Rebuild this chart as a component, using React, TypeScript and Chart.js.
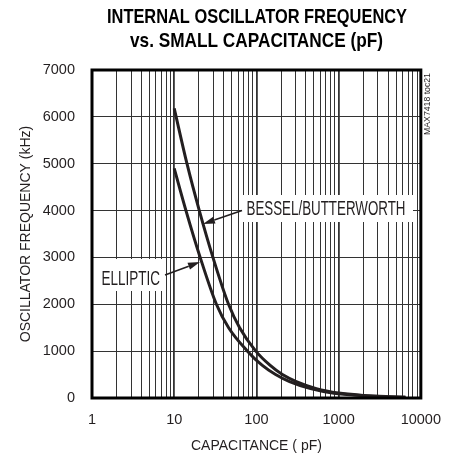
import React, { useEffect, useRef } from "react";
import { Chart, registerables } from "chart.js";

Chart.register(...registerables);

const titleLines = ["INTERNAL OSCILLATOR FREQUENCY", "vs. SMALL CAPACITANCE (pF)"];
const xTitle = "CAPACITANCE ( pF)";
const yTitle = "OSCILLATOR FREQUENCY (kHz)";
const sideNote = "MAX7418 toc21";

const capTicks = [
  1, 2, 3, 4, 5, 6, 7, 8, 9,
  10, 20, 30, 40, 50, 60, 70, 80, 90,
  100, 200, 300, 400, 500, 600, 700, 800, 900,
  1000, 2000, 3000, 4000, 5000, 6000, 7000, 8000, 9000,
  10000,
];
const freqTicks = [0, 1000, 2000, 3000, 4000, 5000, 6000, 7000];

const besselLabel = "BESSEL/BUTTERWORTH";
const besselCap = [10, 14.3, 20.2, 29.6, 45.8, 62.5, 98.3, 146, 207, 306, 536, 1000, 2000, 4000, 6500];
const besselFreq = [6180, 5000, 4000, 3000, 2000, 1500, 1000, 700, 500, 350, 200, 105, 55, 28, 16];

const ellipticLabel = "ELLIPTIC";
const ellipticCap = [10, 13.9, 20.7, 32.6, 45.9, 77.8, 117, 171, 253, 456, 879, 2000, 4000, 6500];
const ellipticFreq = [4900, 4000, 3000, 2000, 1500, 1000, 700, 500, 350, 200, 100, 50, 26, 15];

const SANS = '"Liberation Sans", Arial, sans-serif';
const INK = "#231f20";

const isDecade = (v: number) => {
  const l = Math.log10(v);
  return Math.abs(l - Math.round(l)) < 1e-9;
};

function arrow(ctx: CanvasRenderingContext2D, x1: number, y1: number, x2: number, y2: number) {
  const ang = Math.atan2(y2 - y1, x2 - x1);
  const len = 12;
  const hw = 3.6;
  const bx = x2 - len * Math.cos(ang);
  const by = y2 - len * Math.sin(ang);
  ctx.save();
  ctx.strokeStyle = INK;
  ctx.fillStyle = INK;
  ctx.lineWidth = 1.6;
  ctx.beginPath();
  ctx.moveTo(x1, y1);
  ctx.lineTo(bx, by);
  ctx.stroke();
  ctx.beginPath();
  ctx.moveTo(x2, y2);
  ctx.lineTo(bx + hw * Math.sin(ang), by - hw * Math.cos(ang));
  ctx.lineTo(bx - hw * Math.sin(ang), by + hw * Math.cos(ang));
  ctx.closePath();
  ctx.fill();
  ctx.restore();
}

function fittedText(
  ctx: CanvasRenderingContext2D,
  text: string,
  x: number,
  baseline: number,
  font: string,
  targetWidth: number,
  align: "left" | "center",
  color: string
) {
  ctx.save();
  ctx.font = font;
  const w = ctx.measureText(text).width;
  const sx = targetWidth / w;
  ctx.translate(x, baseline);
  ctx.scale(sx, 1);
  ctx.fillStyle = color;
  ctx.textAlign = align;
  ctx.textBaseline = "alphabetic";
  ctx.fillText(text, 0, 0);
  ctx.restore();
}

const decorPlugin = {
  id: "decor",
  afterDatasetsDraw(chart: any) {
    const ctx: CanvasRenderingContext2D = chart.ctx;
    ctx.save();
    ctx.fillStyle = "#ffffff";
    ctx.fillRect(242, 195, 171, 27);
    ctx.fillRect(96, 259, 68, 32);
    ctx.restore();
    fittedText(ctx, besselLabel, 246.5, 214.5, `20px ${SANS}`, 159, "left", INK);
    fittedText(ctx, ellipticLabel, 101.5, 285, `20px ${SANS}`, 58.5, "left", INK);
    arrow(ctx, 242, 210.5, 203, 224);
    arrow(ctx, 165, 275, 200, 262);
  },
  afterDraw(chart: any) {
    const ctx: CanvasRenderingContext2D = chart.ctx;
    const a = chart.chartArea;
    ctx.save();
    ctx.strokeStyle = "#000";
    ctx.lineWidth = 3;
    ctx.strokeRect(a.left, a.top, a.right - a.left, a.bottom - a.top);
    ctx.restore();
    fittedText(ctx, titleLines[0], 257, 23.3, `bold 21px ${SANS}`, 300, "center", "#000");
    fittedText(ctx, titleLines[1], 256.5, 46.5, `bold 21px ${SANS}`, 253, "center", "#000");
    ctx.save();
    ctx.translate(428, 104);
    ctx.rotate(-Math.PI / 2);
    ctx.font = `8.7px ${SANS}`;
    ctx.fillStyle = INK;
    ctx.textAlign = "center";
    ctx.textBaseline = "middle";
    ctx.fillText(sideNote, 0, 0);
    ctx.restore();
  },
};

export default function App() {
  const ref = useRef<HTMLCanvasElement | null>(null);

  useEffect(() => {
    document.body.style.margin = "0";
    const canvas = ref.current;
    if (!canvas) return;
    const tickFont = { family: SANS, size: 14.5 };
    const chart = new Chart(canvas, {
      type: "line",
      data: {
        datasets: [
          {
            label: besselLabel,
            data: besselCap.map((c, i) => ({ x: c, y: besselFreq[i] })),
            borderColor: INK,
            borderWidth: 3,
            pointRadius: 0,
            cubicInterpolationMode: "monotone",
            fill: false,
          },
          {
            label: ellipticLabel,
            data: ellipticCap.map((c, i) => ({ x: c, y: ellipticFreq[i] })),
            borderColor: INK,
            borderWidth: 3,
            pointRadius: 0,
            cubicInterpolationMode: "monotone",
            fill: false,
          },
        ],
      },
      options: {
        responsive: false,
        animation: false,
        devicePixelRatio: 1,
        layout: { padding: { top: 70, right: 33, left: 0, bottom: 0 } },
        plugins: {
          legend: { display: false },
          tooltip: { enabled: false },
          title: { display: false },
        },
        scales: {
          x: {
            type: "logarithmic",
            min: 1,
            max: 10000,
            afterBuildTicks: (s: any) => {
              s.ticks = capTicks.map((v) => ({ value: v }));
            },
            afterFit: (s: any) => {
              s.height = 66;
            },
            ticks: {
              autoSkip: false,
              maxRotation: 0,
              minRotation: 0,
              padding: 13,
              color: INK,
              font: tickFont,
              callback: (v: any) => (isDecade(Number(v)) ? String(v) : ""),
            },
            grid: {
              color: "#333",
              lineWidth: (c: any) => (c.tick && isDecade(c.tick.value) ? 1.8 : 1),
              drawTicks: false,
            },
            border: { display: false },
            title: {
              display: true,
              text: xTitle,
              color: INK,
              font: { family: SANS, size: 14 },
              padding: { top: 0, bottom: 9.5 },
            },
          },
          y: {
            type: "linear",
            min: 0,
            max: 7000,
            afterBuildTicks: (s: any) => {
              s.ticks = freqTicks.map((v) => ({ value: v }));
            },
            afterFit: (s: any) => {
              s.width = 92;
            },
            ticks: {
              padding: 17,
              color: INK,
              font: tickFont,
              callback: (v: any) => String(v),
            },
            grid: { color: "#333", lineWidth: 1, drawTicks: false },
            border: { display: false },
            title: {
              display: true,
              text: yTitle,
              color: INK,
              font: { family: SANS, size: 14 },
              padding: { top: 17.5, bottom: 0 },
            },
          },
        },
      } as any,
      plugins: [decorPlugin],
    });
    return () => chart.destroy();
  }, []);

  return (
    <div style={{ width: 454, height: 464, background: "#fff" }}>
      <canvas ref={ref} width={454} height={464} style={{ display: "block" }} />
    </div>
  );
}
